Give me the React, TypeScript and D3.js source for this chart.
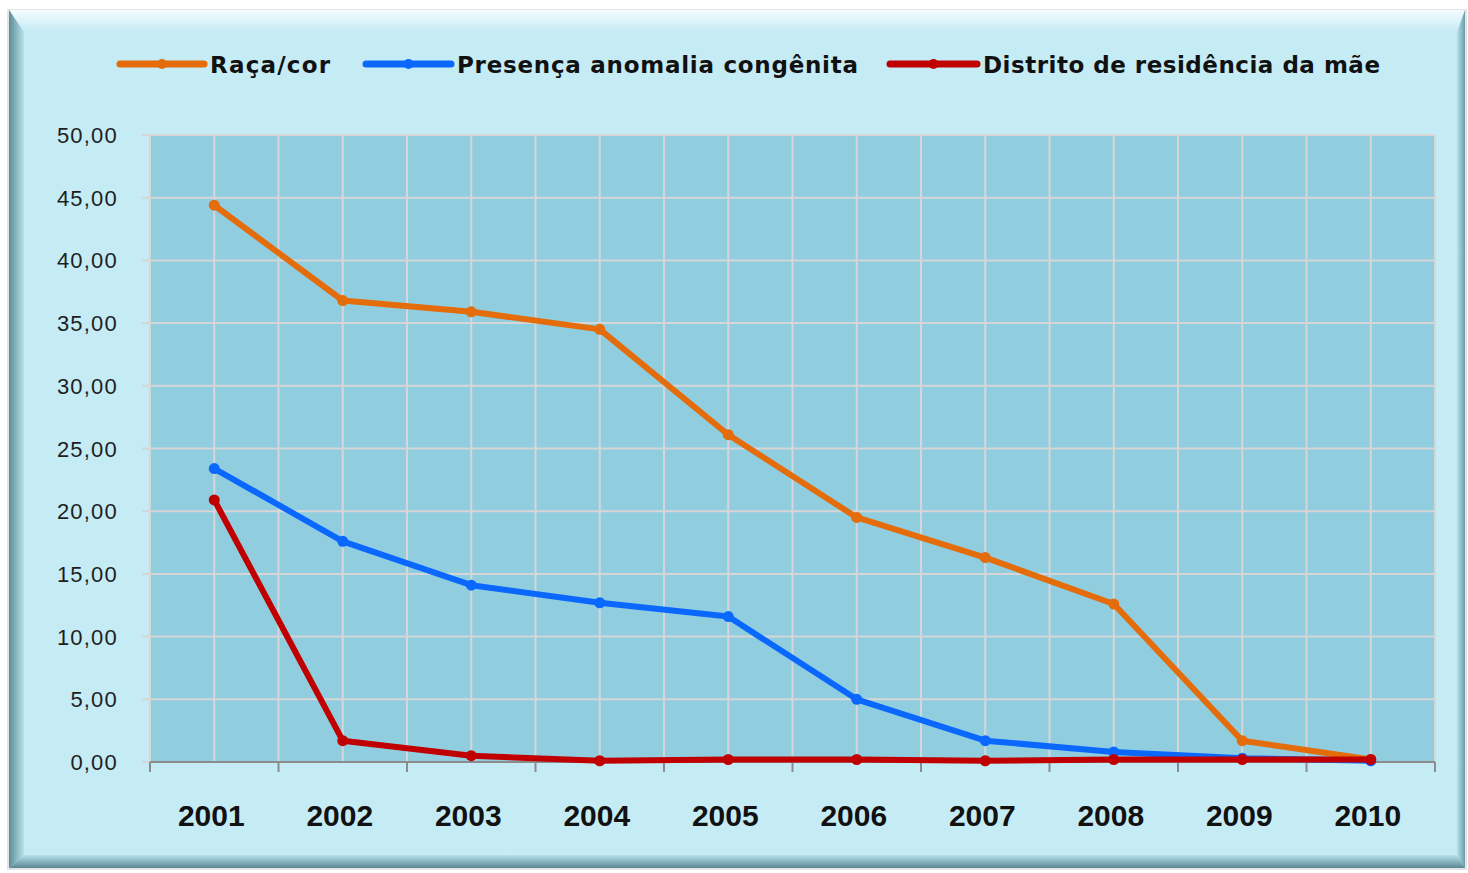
import React from 'react';
import * as d3 from 'd3';

const W = 1468;
const H = 873;
const PLOT = { left: 150, top: 135, right: 1435, bottom: 762 };

const years = ['2001', '2002', '2003', '2004', '2005', '2006', '2007', '2008', '2009', '2010'];
const racaCor = [44.4, 36.8, 35.9, 34.5, 26.1, 19.5, 16.3, 12.6, 1.7, 0.2];
const anomalia = [23.4, 17.6, 14.1, 12.7, 11.6, 5.0, 1.7, 0.8, 0.3, 0.1];
const distrito = [20.9, 1.7, 0.5, 0.1, 0.2, 0.2, 0.1, 0.2, 0.2, 0.2];
const yTicks = [0, 5, 10, 15, 20, 25, 30, 35, 40, 45, 50];

const seriesNames = ['Raça/cor', 'Presença anomalia congênita', 'Distrito de residência da mãe'];
const seriesColors = ['#e46c0a', '#0a68ff', '#c00000'];

// legend layout: line start, text start, text width
const LEGEND = [
  { x: 120, tx: 210, tw: 120 },
  { x: 366, tx: 457, tw: 401 },
  { x: 890, tx: 983, tw: 397 },
];

const fmt = (v: number) => d3.format('.2f')(v).replace('.', ',');

export default function App() {
  const x = d3.scaleBand<string>().domain(years).range([PLOT.left, PLOT.right]);
  const y = d3.scaleLinear().domain([0, 50]).range([PLOT.bottom, PLOT.top]);
  const bw = x.bandwidth();
  const cx = (yr: string) => (x(yr) as number) + bw / 2;

  const line = d3.line<number>()
    .x((_, i) => cx(years[i]))
    .y((d) => y(d));

  const series = [racaCor, anomalia, distrito];

  // vertical gridlines at every band edge and centre
  const vGrid: number[] = [];
  years.forEach((yr) => { vGrid.push(x(yr) as number); vGrid.push(cx(yr)); });
  vGrid.push(PLOT.right);
  const bandEdges = years.map((yr) => x(yr) as number).concat([PLOT.right]);

  const L = 9, T = 10, R = 1465, B = 868;
  const bl = 24, bt = 32, br = 1457, bb = 855;

  return (
    <svg width={W} height={H} style={{ position: 'absolute', left: 0, top: 0, fontFamily: '"Liberation Sans", Arial, sans-serif' }}>
      <defs>
        <linearGradient id="gTop" x1="0" y1="0" x2="0" y2="1">
          <stop offset="0" stopColor="#f4fcfe" />
          <stop offset="1" stopColor="#c5ebf5" />
        </linearGradient>
        <linearGradient id="gLeft" x1="0" y1="0" x2="1" y2="0">
          <stop offset="0" stopColor="#5c8d98" />
          <stop offset="1" stopColor="#b9e2ec" />
        </linearGradient>
        <linearGradient id="gRight" x1="1" y1="0" x2="0" y2="0">
          <stop offset="0" stopColor="#6d9ca7" />
          <stop offset="1" stopColor="#b9e2ec" />
        </linearGradient>
        <linearGradient id="gBottom" x1="0" y1="1" x2="0" y2="0">
          <stop offset="0" stopColor="#5a8893" />
          <stop offset="1" stopColor="#b9e2ec" />
        </linearGradient>
      </defs>

      {/* bevelled frame */}
      <rect x={L - 2} y={T - 1} width={R - L + 4} height={B - T + 3} fill="#e4e4e4" />
      <rect x={L} y={T} width={R - L} height={B - T} fill="#c5ebf5" />
      <polygon points={`${L},${T} ${R},${T} ${br},${bt} ${bl},${bt}`} fill="url(#gTop)" />
      <polygon points={`${L},${T} ${bl},${bt} ${bl},${bb} ${L},${B}`} fill="url(#gLeft)" />
      <polygon points={`${R},${T} ${R},${B} ${br},${bb} ${br},${bt}`} fill="url(#gRight)" />
      <polygon points={`${L},${B} ${bl},${bb} ${br},${bb} ${R},${B}`} fill="url(#gBottom)" />

      {/* plot area */}
      <rect x={PLOT.left} y={PLOT.top} width={PLOT.right - PLOT.left} height={PLOT.bottom - PLOT.top} fill="#90cddf" />
      {yTicks.map((t) => (
        <line key={'h' + t} x1={PLOT.left - 8} x2={PLOT.right} y1={y(t)} y2={y(t)} stroke="#d6d6d6" strokeWidth={2} />
      ))}
      {vGrid.map((v, i) => (
        <line key={'v' + i} x1={v} x2={v} y1={PLOT.top} y2={PLOT.bottom} stroke="#d6d6d6" strokeWidth={2} />
      ))}

      {/* x axis */}
      <line x1={PLOT.left} x2={PLOT.right} y1={PLOT.bottom} y2={PLOT.bottom} stroke="#8c8c8c" strokeWidth={2} />
      {bandEdges.map((v, i) => (
        <line key={'t' + i} x1={v} x2={v} y1={PLOT.bottom} y2={PLOT.bottom + 10} stroke="#8c8c8c" strokeWidth={2} />
      ))}
      {years.map((yr) => (
        <text key={yr} x={cx(yr) - 3} y={826} textAnchor="middle" fontSize={30} fontWeight="bold" fill="#111">{yr}</text>
      ))}

      {/* y axis labels */}
      {yTicks.map((t) => (
        <text key={'yl' + t} x={118} y={y(t) + 8} textAnchor="end" fontSize={22} letterSpacing={1.2} fill="#1e1e1e">{fmt(t)}</text>
      ))}

      {/* series */}
      {series.map((s, si) => (
        <g key={si}>
          <path d={line(s) as string} fill="none" stroke={seriesColors[si]} strokeWidth={6} strokeLinejoin="round" />
          {s.map((v, i) => (
            <circle key={i} cx={cx(years[i])} cy={y(v)} r={5.5} fill={seriesColors[si]} />
          ))}
        </g>
      ))}

      {/* legend */}
      {LEGEND.map((l, i) => (
        <g key={'lg' + i}>
          <line x1={l.x} x2={l.tx - 6} y1={64} y2={64} stroke={seriesColors[i]} strokeWidth={7} strokeLinecap="round" />
          <circle cx={(l.x + l.tx - 6) / 2} cy={64} r={5} fill={seriesColors[i]} />
          <text x={l.tx} y={73} fontSize={23} fontWeight="bold" fill="#111" textLength={l.tw}
            style={{ fontFamily: '"DejaVu Sans", Verdana, sans-serif' }}>{seriesNames[i]}</text>
        </g>
      ))}
    </svg>
  );
}
